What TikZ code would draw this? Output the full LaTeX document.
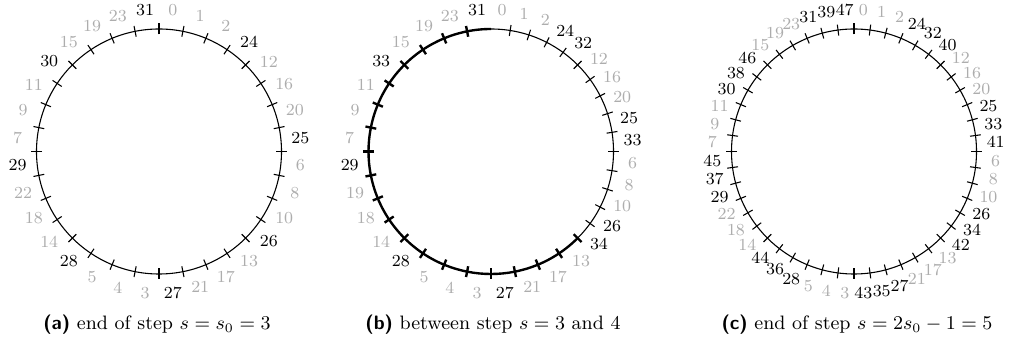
\documentclass[tikz,border=0pt]{standalone}
\newcommand\mylbl[3]{% name, angle, text
  \ifnum#3<24\relax
    \node[labg] (#1) at (#2:142) {#3};
  \else
    \node[labb] (#1) at (#2:142) {#3};
  \fi}
\begin{document}
\begin{tikzpicture}[x=0.463pt,y=0.463pt,
  ring/.style={line width=0.5pt},
  thickring/.style={line width=1.1pt},
  tick/.style={line width=0.5pt},
  thicktick/.style={line width=1.1pt},
  labg/.style={text=black!32,inner sep=0pt,font=\fontsize{7.8}{9}\selectfont},
  labb/.style={text=black,inner sep=0pt,font=\fontsize{7.8}{9}\selectfont},
  captext/.style={anchor=base,inner sep=0pt,font=\fontsize{9}{11}\selectfont}]
\useasboundingbox (0,0) rectangle (1013,349);
% ---------- (a)
\begin{scope}[shift={(159,197.5)}]
  \draw[ring] (0,0) circle[radius=122.5];
  \foreach \k in {0,...,31}{
    \pgfmathsetmacro\ang{90-11.25*\k}
    \draw[tick] (\ang:117) -- (\ang:128);}
  \foreach \t [count=\i from 0] in {0,1,2,24,12,16,20,25,6,8,10,26,13,17,21,27,3,4,5,28,14,18,22,29,7,9,11,30,15,19,23,31}{
    \pgfmathsetmacro\ang{84.375-11.25*\i}
    \mylbl{a\i}{\ang}{\t}}
\end{scope}
% ---------- (b)
\begin{scope}[shift={(491,197.5)}]
  \draw[ring] (90:122.5) arc[start angle=90,end angle=-45,radius=122.5];
  \draw[thickring] (-45:122.5) arc[start angle=-45,end angle=-270,radius=122.5];
  \foreach \k in {1,...,14}{
    \pgfmathsetmacro\ang{90-9*\k}
    \draw[tick] (\ang:117) -- (\ang:128);}
  \foreach \k in {0,...,19}{
    \pgfmathsetmacro\ang{-45-11.25*\k}
    \draw[thicktick] (\ang:117) -- (\ang:128);}
  \foreach \t [count=\i from 0] in {0,1,2,24,32,12,16,20,25,33,6,8,10,26,34}{
    \pgfmathsetmacro\ang{85.5-9*\i}
    \mylbl{b\i}{\ang}{\t}}
  \foreach \t [count=\i from 0] in {13,17,21,27,3,4,5,28,14,18,19,29,7,9,11,33,15,19,23,31}{
    \pgfmathsetmacro\ang{-50.625-11.25*\i}
    \mylbl{bb\i}{\ang}{\t}}
\end{scope}
% ---------- (c)
\begin{scope}[shift={(854,197.5)}]
  \draw[ring] (0,0) circle[radius=122.5];
  \foreach \k in {0,...,47}{
    \pgfmathsetmacro\ang{90-7.5*\k}
    \draw[tick] (\ang:117) -- (\ang:128);}
  \foreach \t [count=\i from 0] in {0,1,2,24,32,40,12,16,20,25,33,41,6,8,10,26,34,42,13,17,21,27,35,43,3,4,5,28,36,44,14,18,22,29,37,45,7,9,11,30,38,46,15,19,23,31,39,47}{
    \pgfmathsetmacro\ang{86.25-7.5*\i}
    \mylbl{c\i}{\ang}{\t}}
\end{scope}
% ---------- captions
\node[captext] (capa) at (157,19) {\textsf{\bfseries(a)} end of step $s=s_0=3$};
\node[captext] (capb) at (493,19) {\textsf{\bfseries(b)} between step $s=3$ and $4$};
\node[captext] (capc) at (857,19) {\textsf{\bfseries(c)} end of step $s=2s_0-1=5$};
\end{tikzpicture}
\end{document}
